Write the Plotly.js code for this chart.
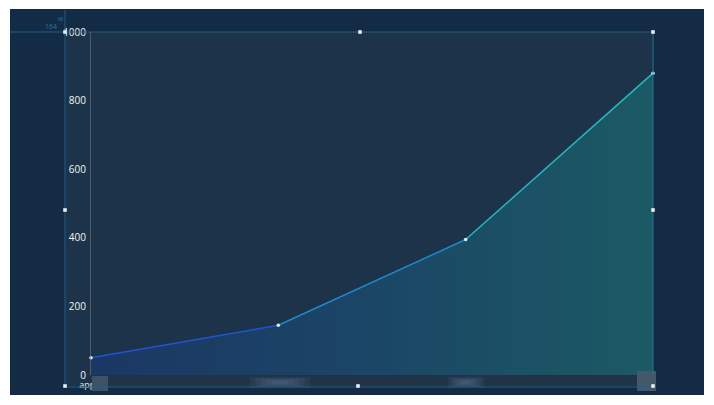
<!DOCTYPE html>
<html>
<head>
<meta charset="utf-8">
<script src="https://cdn.plot.ly/plotly-3.0.1.min.js"></script>
<style>
html,body{margin:0;padding:0;background:#ffffff;}
#chart{width:714px;height:405px;}
</style>
</head>
<body>
<div id="chart"></div>
<script>
// ---- data ----
const categories = ["apple", "banana", "orange", "pear"];
const values = [50, 145, 395, 880];
const yTicks = [0, 200, 400, 600, 800, 1000];
const segmentColors = ["#1f55d4", "#1f88cc", "#25b6bd"];

// ---- page geometry (pixels) -> paper coords ----
const W = 714, H = 405;
const M = {l: 91, r: 61, t: 32, b: 30};
const pw = W - M.l - M.r, ph = H - M.t - M.b;
const px = x => (x - M.l) / pw;
const py = y => (H - M.b - y) / ph;

function rect(x0, y0, x1, y1, color, layer, opacity) {
  return {type: 'rect', xref: 'paper', yref: 'paper',
    x0: px(x0), x1: px(x1), y0: py(y1), y1: py(y0),
    fillcolor: color, line: {width: 0}, layer: layer || 'above', opacity: opacity == null ? 1 : opacity};
}
function hline(x0, x1, y, color) {
  return {type: 'line', xref: 'paper', yref: 'paper', x0: px(x0), x1: px(x1), y0: py(y), y1: py(y),
    line: {color: color, width: 1}, layer: 'above'};
}
function vline(x, y0, y1, color) {
  return {type: 'line', xref: 'paper', yref: 'paper', x0: px(x), x1: px(x), y0: py(y0), y1: py(y1),
    line: {color: color, width: 1}, layer: 'above'};
}
function handle(x, y) {
  return rect(x - 1.8, y - 1.8, x + 1.8, y + 1.8, '#e8eef4', 'above', 1);
}
function blur(x0, x1, y0, y1) {
  const out = [];
  const steps = 5;
  const w = (x1 - x0), h = (y1 - y0);
  for (let i = 0; i < steps; i++) {
    const dx = w * 0.09 * i, dy = h * 0.08 * i;
    out.push(rect(x0 + dx, y0 + dy, x1 - dx, y1 - dy, 'rgb(110,140,160)', 'above', 0.11));
  }
  return out;
}

const outerColor = 'rgb(20,43,69)';
const frameColor = 'rgb(32,92,140)';
const shapes = [
  rect(10, 9, 704, 395, outerColor, 'below'),
  rect(65, 32, 653, 386, 'rgb(29,51,73)', 'below'),
  // bottom strip covering the category labels
  rect(92, 376, 653, 387, 'rgb(32,51,71)', 'above'),
  rect(108, 387, 700, 394, outerColor, 'above'),
  rect(653, 370, 700, 394, outerColor, 'above'),
  ...blur(250, 310, 377, 388),
  ...blur(448, 484, 377, 388),
  rect(92, 376, 108, 391, 'rgb(62,82,102)', 'above'),
  rect(637, 371, 656, 391, 'rgb(68,88,108)', 'above'),
  // selection frame and guides
  hline(10, 653, 32, frameColor),
  vline(65, 10, 386, frameColor),
  hline(65, 653, 387, frameColor),
  vline(653, 32, 375, 'rgb(30,120,150)'),
  handle(65, 32), handle(360, 32), handle(653, 32),
  handle(65, 210), handle(653, 210),
  handle(65, 386), handle(358, 386), handle(653, 386)
];

const traces = [];
traces.push({
  x: categories, y: values, type: 'scatter', mode: 'lines',
  line: {width: 0}, fill: 'tozeroy',
  fillgradient: {type: 'horizontal', colorscale: [[0, 'rgb(27,55,100)'], [0.5, 'rgb(27,70,102)'], [1, 'rgb(27,90,100)']]},
  hoverinfo: 'skip', showlegend: false
});
for (let i = 0; i < categories.length - 1; i++) {
  traces.push({
    x: categories.slice(i, i + 2), y: values.slice(i, i + 2),
    type: 'scatter', mode: 'lines', line: {color: segmentColors[i], width: 1.5},
    showlegend: false, hoverinfo: 'skip'
  });
}
traces.push({
  x: categories, y: values, type: 'scatter', mode: 'markers',
  marker: {color: '#e6eef6', size: 3.5}, showlegend: false, cliponaxis: false
});

const layout = {
  width: W, height: H,
  margin: M,
  paper_bgcolor: '#ffffff',
  plot_bgcolor: 'rgba(0,0,0,0)',
  font: {family: 'Open Sans, Noto Sans, sans-serif', size: 10, color: '#eef2f6'},
  showlegend: false,
  xaxis: {
    type: 'category', range: [0, categories.length - 1],
    showgrid: false, zeroline: false, showline: false, ticks: '',
    ticklabelstandoff: 3,
    tickfont: {size: 9, color: '#e6ecf2'}, fixedrange: true
  },
  yaxis: {
    range: [0, 1000], tickvals: yTicks, ticktext: yTicks.map(String),
    showgrid: false, zeroline: false, showline: true, linecolor: 'rgba(110,130,150,0.55)', linewidth: 1,
    ticks: '', ticklabelstandoff: 2, tickfont: {size: 10, color: '#f2f5f8'}, fixedrange: true
  },
  shapes: shapes,
  annotations: [
    {xref: 'paper', yref: 'paper', x: px(51), y: py(27), xanchor: 'center', yanchor: 'middle',
      text: '164', showarrow: false, font: {size: 7, color: 'rgb(30,120,175)'}},
    {xref: 'paper', yref: 'paper', x: px(60), y: py(19), xanchor: 'center', yanchor: 'middle',
      text: '8', showarrow: false, textangle: -90, font: {size: 7, color: 'rgb(30,120,175)'}}
  ]
};

Plotly.newPlot('chart', traces, layout, {displayModeBar: false, staticPlot: true});
</script>
</body>
</html>
